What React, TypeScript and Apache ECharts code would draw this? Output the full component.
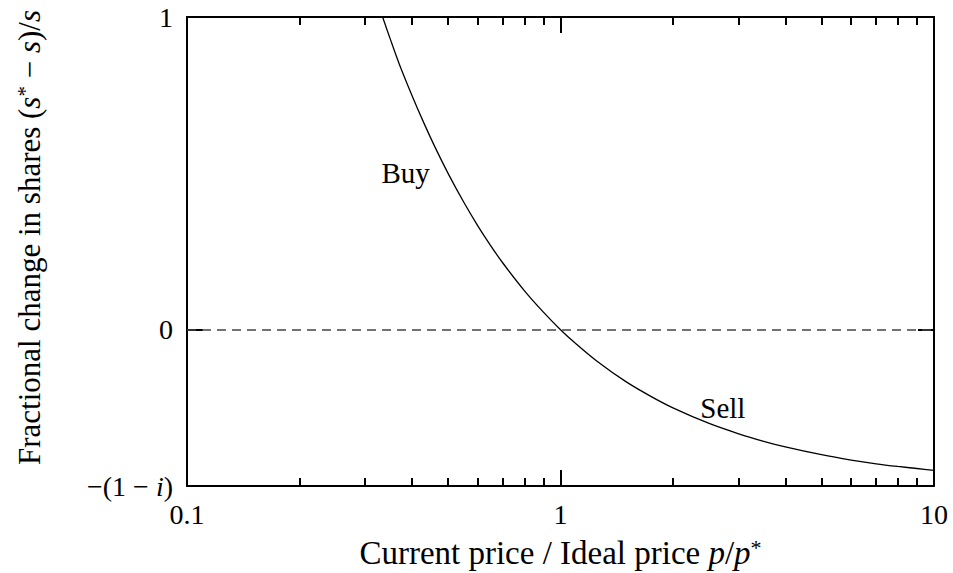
import React, { useEffect, useRef } from "react";
import * as echarts from "echarts";

const priceRatio = [0.334, 0.35, 0.37, 0.4, 0.43, 0.46, 0.5, 0.55, 0.6, 0.65, 0.7, 0.8, 0.9, 1, 1.1, 1.25, 1.5, 1.75, 2, 2.5, 3, 3.5, 4, 5, 6, 7, 8, 9, 10];
const shareChange = [1.0, 0.93, 0.85, 0.75, 0.663, 0.587, 0.5, 0.409, 0.333, 0.269, 0.214, 0.125, 0.056, 0, -0.045, -0.1, -0.167, -0.214, -0.25, -0.3, -0.333, -0.357, -0.375, -0.4, -0.417, -0.429, -0.4375, -0.444, -0.45];

const xMajorTicks = [0.1, 1, 10];
const xMinorTicks = [0.2, 0.3, 0.4, 0.5, 0.6, 0.7, 0.8, 0.9, 2, 3, 4, 5, 6, 7, 8, 9];
const yTickValues = [-0.5, 0, 1];
const yTickLabels: Record<string, string> = { "-0.5": "−(1 − {it|i})", "0": "0", "1": "1" };

const annotations = [
  { name: "Buy", coord: [0.385, 0.5] },
  { name: "Sell", coord: [2.72, -0.252] },
];

const FONT = "'Liberation Serif', 'DejaVu Serif', serif";

export default function App() {
  const ref = useRef<HTMLDivElement>(null);
  useEffect(() => {
    const chart = echarts.init(ref.current!, null, { renderer: "svg" });
    const axisLine = { show: true, onZero: false, lineStyle: { color: "#000", width: 2 } };
    const noLine = { show: false, onZero: false };
    const logBase = { type: "log" as const, logBase: 10, min: 0.1, max: 10, gridIndex: 0, splitLine: { show: false } };
    const rich = (size: number) => ({
      it: { fontFamily: FONT, fontStyle: "italic", fontSize: size, color: "#000" },
      sup: { fontFamily: FONT, fontSize: Math.round(size * 0.68), color: "#000", verticalAlign: "top" },
    });
    chart.setOption({
      animation: false,
      backgroundColor: "#fff",
      grid: { left: 187, right: 19, top: 17, bottom: 87, outerBoundsMode: "none", containLabel: false },
      xAxis: [
        {
          ...logBase,
          position: "bottom",
          axisLine,
          axisTick: { show: true, inside: true, length: 16, customValues: xMajorTicks, lineStyle: { color: "#000", width: 2 } },
          axisLabel: {
            show: true,
            customValues: xMajorTicks,
            margin: 14,
            color: "#000",
            fontFamily: FONT,
            fontSize: 28,
            formatter: (v: number) => String(v),
          },
          name: "Current price / Ideal price {it|p}/{it|p}{sup|*}",
          nameLocation: "middle",
          nameGap: 50,
          nameTextStyle: { color: "#000", fontFamily: FONT, fontSize: 33, rich: rich(33) },
        },
        {
          ...logBase,
          position: "bottom",
          axisLine: noLine,
          axisTick: { show: true, inside: true, length: 8, customValues: xMinorTicks, lineStyle: { color: "#000", width: 2 } },
          axisLabel: { show: false },
        },
        {
          ...logBase,
          position: "top",
          axisLine,
          axisTick: { show: true, inside: true, length: 16, customValues: xMajorTicks, lineStyle: { color: "#000", width: 2 } },
          axisLabel: { show: false },
        },
        {
          ...logBase,
          position: "top",
          axisLine: noLine,
          axisTick: { show: true, inside: true, length: 8, customValues: xMinorTicks, lineStyle: { color: "#000", width: 2 } },
          axisLabel: { show: false },
        },
      ],
      yAxis: [
        {
          type: "value",
          min: -0.5,
          max: 1,
          interval: 0.5,
          position: "left",
          splitLine: { show: false },
          axisLine,
          axisTick: { show: true, inside: true, length: 16, customValues: yTickValues, lineStyle: { color: "#000", width: 2 } },
          axisLabel: {
            show: true,
            customValues: yTickValues,
            margin: 14,
            color: "#000",
            fontFamily: FONT,
            fontSize: 28,
            formatter: (v: number) => yTickLabels[String(v)] ?? "",
            rich: rich(28),
          },
          name: "Fractional change in shares ({it|s}{sup|*} − {it|s})/{it|s}",
          nameLocation: "middle",
          nameRotate: 90,
          nameGap: 142,
          nameTextStyle: { color: "#000", fontFamily: FONT, fontSize: 31, rich: rich(31), padding: [0, 0, 0, 28] },
        },
        {
          type: "value",
          min: -0.5,
          max: 1,
          interval: 0.5,
          position: "right",
          splitLine: { show: false },
          axisLine,
          axisTick: { show: true, inside: true, length: 16, customValues: yTickValues, lineStyle: { color: "#000", width: 2 } },
          axisLabel: { show: false },
        },
      ],
      series: [
        {
          type: "line",
          xAxisIndex: 0,
          yAxisIndex: 0,
          data: priceRatio.map((x, k) => [x, shareChange[k]]),
          showSymbol: false,
          smooth: 0.3,
          lineStyle: { color: "#000", width: 1.3 },
          silent: true,
          markLine: {
            silent: true,
            symbol: "none",
            label: { show: false },
            lineStyle: { color: "#444", width: 1.5, type: [9, 6] },
            data: [{ yAxis: 0 }],
          },
          markPoint: {
            silent: true,
            symbol: "circle",
            symbolSize: 0,
            label: {
              show: true,
              position: "inside",
              formatter: "{b}",
              color: "#000",
              fontFamily: FONT,
              fontSize: 29,
            },
            data: annotations.map((a) => ({ name: a.name, coord: a.coord })),
          },
        },
      ],
    });
    return () => chart.dispose();
  }, []);
  return (
    <div style={{ position: "fixed", left: 0, top: 0, width: 953, height: 573, background: "#fff" }}>
      <div ref={ref} style={{ width: 953, height: 573 }} />
    </div>
  );
}
